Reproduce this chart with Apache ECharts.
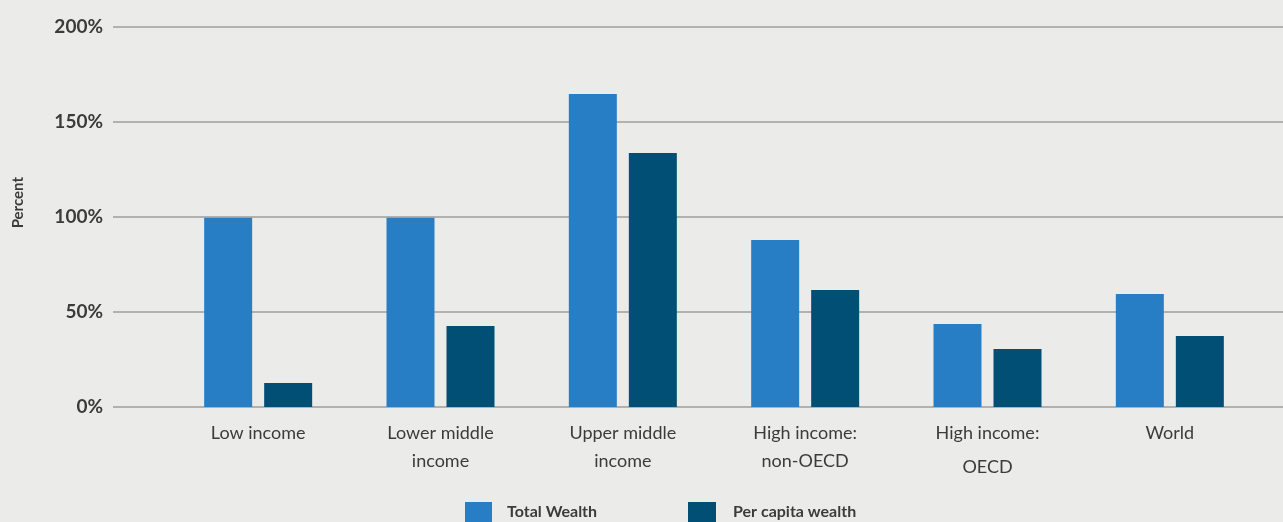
<!DOCTYPE html>
<html>
<head>
<meta charset="utf-8">
<script src="https://cdn.jsdelivr.net/npm/echarts@6/dist/echarts.min.js"></script>
<style>
html,body{margin:0;padding:0;background:#ebecea;}
#chart{width:1283px;height:522px;}
</style>
</head>
<body>
<div id="chart"></div>
<script>
const categories = ['Low income', 'Lower middle\nincome', 'Upper middle\nincome', 'High income:\nnon-OECD', 'High income:\n{b|OECD}', 'World'];
const totalWealth = [99.5, 99.5, 164.5, 87.8, 43.6, 59.4];
const perCapitaWealth = [12.6, 42.6, 133.5, 61.5, 30.5, 37.3];
const yTicks = [0, 50, 100, 150, 200];
const seriesNames = ['Total Wealth', 'Per capita wealth'];

const txt = '#3b3b3b';
const font = 'Lato';
const chart = echarts.init(document.getElementById('chart'));
chart.setOption({
  backgroundColor: '#ebecea',
  animation: false,
  grid: [
    {left: 113, right: 0, top: 26.5, bottom: 115, containLabel: false},
    {left: 167, right: 22, top: 26.5, bottom: 115, containLabel: false}
  ],
  xAxis: [
    {gridIndex: 0, type: 'value', show: false, min: 0, max: 1},
    {gridIndex: 1, type: 'category', data: categories,
     axisLine: {show: false}, axisTick: {show: false},
     axisLabel: {margin: 12, color: txt, fontFamily: font, fontSize: 18, lineHeight: 28,
       rich: {b: {lineHeight: 40, fontSize: 18, color: txt, fontFamily: font}}}}
  ],
  yAxis: [
    {gridIndex: 0, type: 'value', min: yTicks[0], max: yTicks[yTicks.length - 1], interval: 50,
     axisLine: {show: false}, axisTick: {show: false},
     axisLabel: {margin: 10, color: txt, fontFamily: font, fontWeight: 'bold', fontSize: 19,
       formatter: v => v + '%'},
     splitLine: {lineStyle: {color: '#9d9e9d', width: 1.5}}},
    {gridIndex: 1, type: 'value', min: yTicks[0], max: yTicks[yTicks.length - 1], interval: 50, show: false,
     splitLine: {show: false}}
  ],
  legend: [
    {data: [seriesNames[0]], left: 465, top: 502, padding: 0, itemWidth: 27, itemHeight: 20,
     icon: 'rect', textStyle: {color: txt, fontFamily: font, fontWeight: 'bold', fontSize: 16, padding: [0, 0, 0, 10]}},
    {data: [seriesNames[1]], left: 688, top: 502, padding: 0, itemWidth: 28, itemHeight: 20,
     icon: 'rect', textStyle: {color: txt, fontFamily: font, fontWeight: 'bold', fontSize: 16, padding: [0, 0, 0, 12]}}
  ],
  graphic: [
    {type: 'text', left: 11, top: 177, rotation: Math.PI / 2,
     style: {text: 'Percent', fill: txt, font: 'bold 15px Lato', x: 0, y: 0}}
  ],
  series: [
    {name: seriesNames[0], type: 'bar', xAxisIndex: 1, yAxisIndex: 1, data: totalWealth,
     barWidth: 48, barGap: '25%', itemStyle: {color: '#287ec4'}},
    {name: seriesNames[1], type: 'bar', xAxisIndex: 1, yAxisIndex: 1, data: perCapitaWealth,
     barWidth: 48, barGap: '25%', itemStyle: {color: '#024f75'}}
  ]
});
</script>
</body>
</html>
